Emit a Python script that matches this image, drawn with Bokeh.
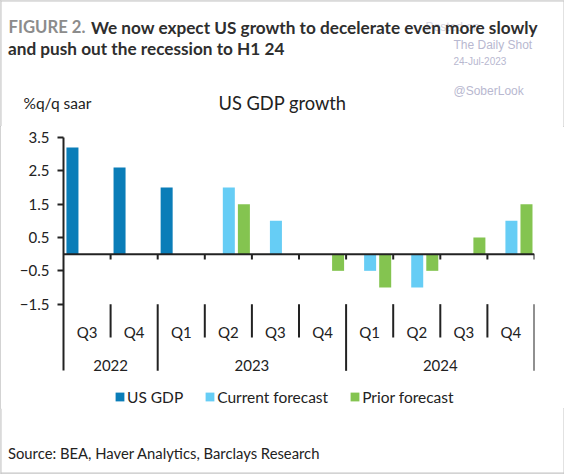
from bokeh.plotting import figure
from bokeh.models import Label, FixedTicker, ColumnDataSource, Range1d
from bokeh.layouts import column
from bokeh.core.properties import value
from bokeh.embed import file_html
from bokeh.resources import INLINE

# ---------------- data ----------------
quarters = ["Q3", "Q4", "Q1", "Q2", "Q3", "Q4", "Q1", "Q2", "Q3", "Q4"]
years = ["2022", "2023", "2024"]
year_start = [0, 2, 6]      # index of first quarter of each year
year_len = [2, 4, 4]
us_gdp = [3.2, 2.6, 2.0, None, None, None, None, None, None, None]
current_fc = [None, None, None, 2.0, 1.0, None, -0.5, -1.0, None, 1.0]
prior_fc = [None, None, None, 1.5, None, -0.5, -1.0, -0.5, 0.5, 1.5]
y_ticks = [3.5, 2.5, 1.5, 0.5, -0.5, -1.5]
series_names = ["US GDP", "Current forecast", "Prior forecast"]

C_GDP = "#0a7db8"
C_CUR = "#66cdf5"
C_PRI = "#84c450"
colors = [C_GDP, C_CUR, C_PRI]
DARK = "#222222"
TITLE_C = "#2e2e2e"
FONT = "Lato"
WM_FONT = "Liberation Sans"
WM = "#b8b8d0"
BORDER = "#c4c4c4"

W = 564
HEAD_BOT = 126
MAIN_BOT = 408
FOOT_BOT = 474
FRAME_L, FRAME_R, FRAME_T = 63, 534, 137
PX_PER_UNIT = 33.333
Y_MAX = 3.5
Y_MIN = Y_MAX - (MAIN_BOT - FRAME_T) / PX_PER_UNIT


def blank(h, bg="white"):
    f = figure(width=W, height=h, output_backend="svg", toolbar_location=None,
               x_axis_type=None, y_axis_type=None,
               x_range=Range1d(0, W), y_range=Range1d(0, h),
               min_border=0, min_border_left=0, min_border_right=0,
               min_border_top=0, min_border_bottom=0, frame_align=False)
    f.outline_line_color = None
    f.xgrid.visible = False
    f.ygrid.visible = False
    f.background_fill_color = bg
    f.border_fill_color = bg
    return f


def lab(f, bottom_ref, X, Y, text, size, color=DARK, bold=False, align="left", font=FONT):
    # (X, Y): reference pixel of the text's left end (or centre) and baseline
    f.add_layout(Label(x=X, y=bottom_ref - Y, text=text, text_font=font,
                       text_font_size=size, text_color=color, text_align=align,
                       text_baseline="alphabetic",
                       text_font_style="bold" if bold else "normal"))


# ---------------- header ----------------
head = blank(HEAD_BOT)
head.segment(x0=[0, 0.5, W - 0.5], y0=[HEAD_BOT - 0.5, 0, 0],
             x1=[W, 0.5, W - 0.5], y1=[HEAD_BOT - 0.5, HEAD_BOT, HEAD_BOT],
             line_color=BORDER, line_width=1)
lab(head, HEAD_BOT, 425, 26, "Posted on", "12px", color="#d4d4e0", font=WM_FONT)
lab(head, HEAD_BOT, 453, 44, "The Daily Shot", "12px", color=WM, font=WM_FONT)
lab(head, HEAD_BOT, 453, 61, "24-Jul-2023", "10px", color=WM, font=WM_FONT)
lab(head, HEAD_BOT, 453, 90, "@SoberLook", "12px", color=WM, font=WM_FONT)
lab(head, HEAD_BOT, 8, 26.5, "FIGURE 2.", "16.7px", color="#8c8c8c", bold=True)
lab(head, HEAD_BOT, 90.5, 26.5, "We now expect US growth to decelerate even more slowly",
    "17.2px", color=TITLE_C, bold=True)
lab(head, HEAD_BOT, 7.5, 47.5, "and push out the recession to H1 24", "17.2px",
    color=TITLE_C, bold=True)
lab(head, HEAD_BOT, 23, 102, "%q/q saar", "15.5px")
lab(head, HEAD_BOT, 282, 102, "US GDP growth", "18.3px", align="center")

# ---------------- main chart ----------------
p = figure(width=W, height=MAIN_BOT - HEAD_BOT, output_backend="svg", toolbar_location=None,
           x_axis_type=None, x_range=Range1d(0, 10), y_range=Range1d(Y_MIN, Y_MAX),
           min_border_left=FRAME_L, min_border_right=W - FRAME_R,
           min_border_top=FRAME_T - HEAD_BOT, min_border_bottom=0,
           frame_align=False)
p.outline_line_color = None
p.xgrid.visible = False
p.ygrid.visible = False
p.background_fill_color = "white"
p.border_fill_color = "white"

ya = p.yaxis[0]
ya.ticker = FixedTicker(ticks=y_ticks)
ya.bounds = (-3.5, 3.5)
ya.axis_line_color = DARK
ya.axis_line_width = 2
ya.major_tick_line_color = DARK
ya.major_tick_line_width = 2
ya.major_tick_out = 6
ya.major_tick_in = 0
ya.minor_tick_line_color = None
ya.major_label_text_font = FONT
ya.major_label_text_font_size = "15px"
ya.major_label_text_color = DARK
ya.major_label_standoff = 8


def series(vals, off):
    xs, tops = [], []
    for i, v in enumerate(vals):
        if v is not None:
            xs.append(i + 0.5 + off)
            tops.append(v)
    return ColumnDataSource(dict(x=xs, top=tops))


BW = 0.255
offsets = [-0.31, 0.01, 0.33]
for vals, off, c, name in zip([us_gdp, current_fc, prior_fc], offsets, colors, series_names):
    p.vbar(x="x", top="top", bottom=0, width=BW, source=series(vals, off),
           fill_color=c, line_color=None, legend_label=name)

n = len(quarters)
p.segment(x0=[0], y0=[0], x1=[n], y1=[0], line_color=DARK, line_width=2)
bx = list(range(1, n + 1))
p.segment(x0=bx, y0=[0] * n, x1=bx, y1=[-0.16] * n, line_color=DARK, line_width=2)

year_bounds = set(year_start + [n])
sx, sy0, sy1 = [], [], []
for k in range(1, n + 1):
    sx.append(k)
    sy0.append(-1.5)
    sy1.append(-3.5 if k in year_bounds else -2.5)
p.segment(x0=sx, y0=sy0, x1=sx, y1=sy1, line_color=DARK, line_width=2)

p.text(x=[i + 0.5 for i in range(n)], y=[-2.35] * n, text=quarters,
       text_align="center", text_baseline="alphabetic", text_font=value(FONT),
       text_font_size="15px", text_color=DARK)
p.text(x=[s + l / 2 for s, l in zip(year_start, year_len)], y=[-3.34] * 3, text=years,
       text_align="center", text_baseline="alphabetic", text_font=value(FONT),
       text_font_size="15px", text_color=DARK)

# legend (inside the lower, empty part of the frame)
lg = p.legend[0]
lg.orientation = "horizontal"
lg.location = (114 - FRAME_L, MAIN_BOT - 405.5)
lg.padding = 0
lg.margin = 0
lg.spacing = 21
lg.glyph_width = 11
lg.glyph_height = 11
lg.label_standoff = 2
lg.label_height = 11
lg.label_text_font = FONT
lg.label_text_font_size = "15.5px"
lg.label_text_color = DARK
lg.background_fill_alpha = 0
lg.border_line_alpha = 0

# ---------------- footer (source) ----------------
FH = FOOT_BOT - MAIN_BOT
foot = blank(FH)
foot.segment(x0=[0, 0.5, W - 0.5], y0=[1.5, 0, 0], x1=[W, 0.5, W - 0.5], y1=[1.5, FH, FH],
             line_color=BORDER, line_width=1)
foot.segment(x0=[0], y0=[0.5], x1=[W], y1=[0.5], line_color=BORDER, line_width=1)
lab(foot, FOOT_BOT, 7.5, 452.5, "Source: BEA, Haver Analytics, Barclays Research", "14.8px")

layout = column(head, p, foot, spacing=0,
                styles={"outline": "1px solid " + BORDER, "outline-offset": "-1px"})
open("out.html", "w").write(file_html(layout, INLINE))
